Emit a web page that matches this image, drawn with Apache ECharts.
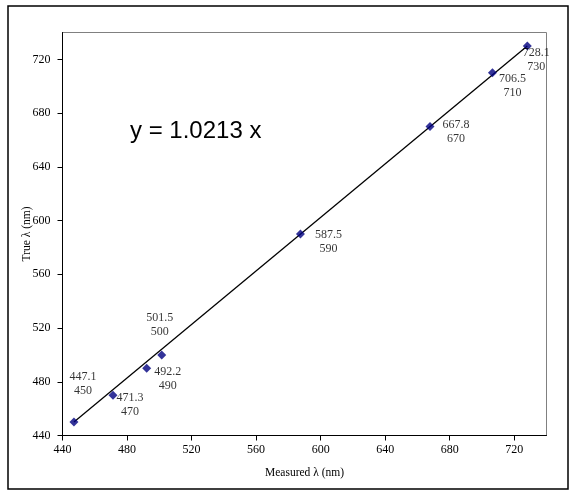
<!DOCTYPE html>
<html>
<head>
<meta charset="utf-8">
<script src="https://cdn.jsdelivr.net/npm/echarts@6/dist/echarts.min.js"></script>
<style>
  html, body { margin: 0; padding: 0; background: #fff; }
  #main { width: 576px; height: 497px; }
</style>
</head>
<body>
<div id="main"></div>
<script>
// measured vs true wavelength (nm)
var measured = [447.1, 471.3, 492.2, 501.5, 587.5, 667.8, 706.5, 728.1];
var trueVal  = [450, 470, 490, 500, 590, 670, 710, 730];
// trendline ends as drawn
var trendX = [447.1, 728.1];
var trendY = [450, 730];
var xTicks = [440, 480, 520, 560, 600, 640, 680, 720];
var yTicks = [440, 480, 520, 560, 600, 640, 680, 720];
var equation = 'y = 1.0213 x';

// where each point's label was dragged to (px from the point)
var labelShift = [[9, -38], [17, 10], [21, 11], [-2, -30], [28, 8], [26, 5], [20, 13], [9, 14]];

var serif = '"Liberation Serif", "Times New Roman", serif';

var myChart = echarts.init(document.getElementById('main'));

var points = [];
for (var i = 0; i < measured.length; i++) {
  points.push({
    value: [measured[i], trueVal[i]],
    label: { offset: labelShift[i] }
  });
}
var trend = [];
for (var j = 0; j < trendX.length; j++) {
  trend.push([trendX[j], trendY[j]]);
}

var option = {
  backgroundColor: '#fff',
  animation: false,
  grid: {
    left: 62.5, right: 29.5, top: 32.5, bottom: 61.5,
    show: true, borderColor: '#808080', borderWidth: 1,
    backgroundColor: 'transparent'
  },
  graphic: [
    {
      type: 'rect',
      shape: { x: 8, y: 6, width: 560, height: 483 },
      style: { fill: 'none', stroke: '#000', lineWidth: 1.5 },
      z: 100
    },
    {
      type: 'text',
      x: 130, y: 131,
      style: {
        text: equation,
        font: '24px "Liberation Sans", Arial, sans-serif',
        fill: '#000',
        textVerticalAlign: 'middle'
      }
    }
  ],
  xAxis: {
    type: 'value',
    min: 440, max: 740,
    name: 'Measured λ (nm)',
    nameLocation: 'middle',
    nameGap: 31,
    nameMoveOverlap: false,
    nameTextStyle: { fontFamily: serif, fontSize: 11.5, color: '#000' },
    axisLine: { show: true, lineStyle: { color: '#000', width: 1 } },
    axisTick: { show: true, length: 5, customValues: xTicks, lineStyle: { color: '#000' } },
    axisLabel: { customValues: xTicks, fontFamily: serif, fontSize: 12, color: '#000', margin: 8 },
    splitLine: { show: false }
  },
  yAxis: {
    type: 'value',
    min: 440, max: 740,
    name: 'True λ (nm)',
    nameLocation: 'middle',
    nameGap: 30,
    nameMoveOverlap: false,
    nameTextStyle: { fontFamily: serif, fontSize: 11.5, color: '#000' },
    axisLine: { show: true, lineStyle: { color: '#000', width: 1 } },
    axisTick: { show: true, length: 5, customValues: yTicks, lineStyle: { color: '#000' } },
    axisLabel: { customValues: yTicks, fontFamily: serif, fontSize: 12, color: '#000', margin: 12 },
    splitLine: { show: false }
  },
  series: [
    {
      type: 'line',
      data: trend,
      symbol: 'none',
      lineStyle: { color: '#000', width: 1.3 },
      z: 2
    },
    {
      type: 'scatter',
      data: points,
      symbol: 'diamond',
      symbolSize: 9,
      itemStyle: { color: '#000080' },
      label: {
        show: true,
        position: 'inside',
        align: 'center',
        verticalAlign: 'middle',
        fontFamily: serif,
        fontSize: 12,
        lineHeight: 14,
        color: '#000',
        formatter: function (p) {
          return p.value[0] + '\n' + p.value[1];
        }
      },
      z: 3
    }
  ]
};

myChart.setOption(option);
</script>
</body>
</html>
